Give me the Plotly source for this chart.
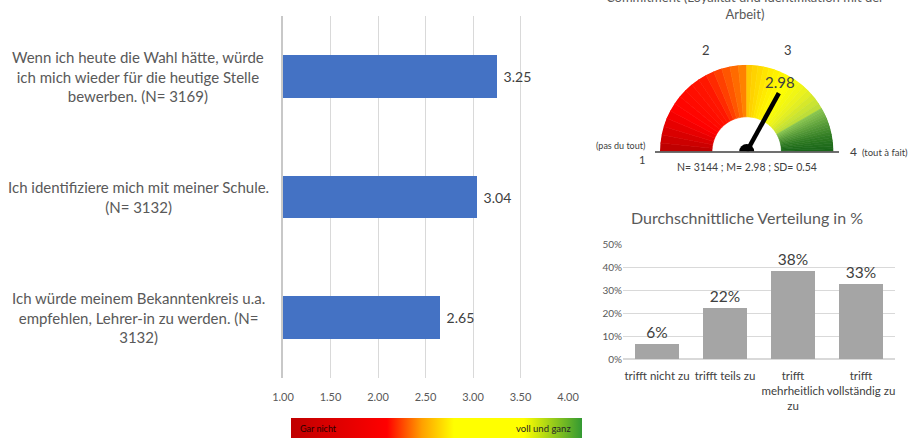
import plotly.graph_objects as go

# ---------------- data ----------------
left_categories = [
    "Wenn ich heute die Wahl hätte, würde<br>ich mich wieder für die heutige Stelle<br>bewerben. (N= 3169)",
    "Ich identifiziere mich mit meiner Schule.<br>(N= 3132)",
    "Ich würde meinem Bekanntenkreis u.a.<br>empfehlen, Lehrer-in zu werden. (N=<br>3132)",
]
left_values = [3.25, 3.04, 2.65]
left_ticks = [1.0, 1.5, 2.0, 2.5, 3.0, 3.5, 4.0]

dist_categories = ["trifft nicht zu", "trifft teils zu", "trifft<br>mehrheitlich<br>zu", "trifft<br>vollständig zu"]
dist_values = [6.4, 22.3, 38.4, 32.6]
dist_ticks = [0, 10, 20, 30, 40, 50]

gauge_mean = 2.98
gauge_min, gauge_max = 1.0, 4.0
gauge_edges = [1.0, 2.5, 3.5, 4.0]
gauge_stats = "N= 3144 ; M= 2.98 ; SD= 0.54"
gauge_title = "Commitment (Loyalität und Identifikation mit der<br>Arbeit)"
dist_title = "Durchschnittliche Verteilung in %"

# ---------------- helpers ----------------
W, H = 908, 438
FONT = "Lato"
GREY = "#595959"
DARK = "#404040"


def px(x):
    return x / W


def py(y):
    return 1 - y / H


def hex2rgb(h):
    h = h.lstrip("#")
    return [int(h[i:i + 2], 16) for i in (0, 2, 4)]


def mix(c0, c1, t):
    a, b = hex2rgb(c0), hex2rgb(c1)
    return "rgb({},{},{})".format(*[round(a[i] + (b[i] - a[i]) * t) for i in range(3)])


fig = go.Figure()

# ---------------- left bar chart ----------------
fig.add_trace(go.Bar(
    x=left_values, y=left_categories, orientation="h",
    marker=dict(color="#4472C4", line=dict(width=0)),
    width=0.355,
    text=[f" {v:.2f}" for v in left_values], textposition="outside",
    textfont=dict(size=14, color=DARK, family=FONT),
    cliponaxis=False, showlegend=False, hoverinfo="skip",
    xaxis="x", yaxis="y",
))

# hidden trace carrying the colour legend bar
fig.add_trace(go.Scatter(
    x=[gauge_min, gauge_min], y=[left_categories[0], left_categories[0]],
    mode="markers",
    marker=dict(size=1, opacity=0, color=[0, 1], cmin=0, cmax=1,
                colorscale=[[0, "#C00000"], [0.33, "#FF0000"], [0.45, "#FFA000"],
                            [0.56, "#FFFF00"], [0.8, "#FFFF00"], [1, "#339933"]],
                showscale=True,
                colorbar=dict(orientation="h", thickness=20, thicknessmode="pixels",
                              len=291, lenmode="pixels", x=px(436.5), xanchor="center",
                              y=0, yanchor="bottom", showticklabels=False, ticks="",
                              outlinewidth=0, xpad=0, ypad=0)),
    hoverinfo="skip", showlegend=False, xaxis="x", yaxis="y",
))

for cat in left_categories:
    fig.add_annotation(x=px(138), y=cat, xref="paper", yref="y", text=cat,
                       showarrow=False, align="center", xanchor="center", yanchor="middle",
                       font=dict(size=15, color=GREY, family=FONT))

# ---------------- distribution bar chart ----------------
fig.add_trace(go.Bar(
    x=dist_categories, y=dist_values,
    marker=dict(color="#A5A5A5", line=dict(width=0)),
    width=0.66,
    text=[f"{round(v)}%" for v in dist_values], textposition="outside",
    textfont=dict(size=15.5, color=DARK, family=FONT),
    cliponaxis=False, showlegend=False, hoverinfo="skip",
    xaxis="x2", yaxis="y2",
))

# ---------------- gauge ----------------
stops = {
    0: ["#B80000", "#FF0000", "#FF1800", "#FF8C00"],
    1: ["#FFC400", "#FFE800", "#FFFF00", "#E8F020", "#B8DC3C"],
    2: ["#8CC850", "#5A9E3A", "#2E7A22", "#186418"],
}
n_sub = 16


def to_theta(v):
    return (v - gauge_min) * 180.0 / (gauge_max - gauge_min)


thetas, widths, colors = [], [], []
for i in range(len(gauge_edges) - 1):
    a, b = gauge_edges[i], gauge_edges[i + 1]
    st = stops[i]
    for k in range(n_sub):
        t = (k + 0.5) / n_sub
        seg = t * (len(st) - 1)
        j = min(int(seg), len(st) - 2)
        col = mix(st[j], st[j + 1], seg - j)
        thetas.append(to_theta(a + (b - a) * t))
        widths.append((b - a) / n_sub * 180.0 / (gauge_max - gauge_min))
        colors.append(col)

fig.add_trace(go.Barpolar(
    r=[0.6] * len(thetas), base=[0.4] * len(thetas), theta=thetas, width=widths,
    marker=dict(color=colors, line=dict(color=colors, width=0.6)),
    showlegend=False, hoverinfo="skip", subplot="polar",
))
fig.add_trace(go.Scatterpolar(
    r=[0, 0.77], theta=[to_theta(gauge_mean)] * 2, mode="lines",
    line=dict(color="black", width=4.5), showlegend=False, hoverinfo="skip",
    subplot="polar",
))
fig.add_trace(go.Scatterpolar(
    r=[0], theta=[0], mode="markers",
    marker=dict(color="black", size=15), showlegend=False, hoverinfo="skip",
    subplot="polar", cliponaxis=True,
))

# ---------------- layout ----------------
fig.update_layout(
    width=W, height=H,
    margin=dict(l=0, r=0, t=0, b=0, autoexpand=False),
    paper_bgcolor="white", plot_bgcolor="white",
    font=dict(family=FONT, color=GREY),
    bargap=0,
    xaxis=dict(domain=[px(283), px(568)], range=[1, 4], tickvals=left_ticks,
               tickformat=".2f", showgrid=True, gridcolor="#D9D9D9", gridwidth=1,
               zeroline=False, showline=False, ticks="outside", ticklen=9,
               tickcolor="rgba(0,0,0,0)", tickfont=dict(size=11, color=GREY, family=FONT),
               fixedrange=True),
    yaxis=dict(domain=[py(378), py(16)], autorange="reversed", showticklabels=False,
               showgrid=False, showline=True, linecolor="#C8C8C8", linewidth=2,
               ticks="", zeroline=False, fixedrange=True),
    xaxis2=dict(domain=[px(623), px(895)], showgrid=False, showline=False,
                ticks="outside", ticklen=6, tickcolor="rgba(0,0,0,0)",
                tickfont=dict(size=11.5, color=DARK, family=FONT), anchor="y2",
                fixedrange=True),
    yaxis2=dict(domain=[py(359), py(244)], range=[0, 50], tickvals=dist_ticks,
                ticktext=[f"{v}%" for v in dist_ticks],
                showgrid=True, gridcolor="#D9D9D9", zeroline=True,
                zerolinecolor="#D9D9D9", tickfont=dict(size=10, color=GREY, family=FONT),
                anchor="x2", fixedrange=True),
    polar=dict(domain=dict(x=[px(660), px(833.4)], y=[py(151.7), py(64.7)]),
               sector=[0, 180], hole=0, bgcolor="rgba(0,0,0,0)",
               radialaxis=dict(range=[0, 1], visible=False),
               angularaxis=dict(visible=False, direction="clockwise", rotation=180)),
)

# gauge baseline
fig.add_shape(type="line", xref="paper", yref="paper", x0=px(655), x1=px(839),
              y0=py(152), y1=py(152), line=dict(color=DARK, width=1.5))

ann = [
    (gauge_title, 745, 5.5, 13, GREY),
    ("2", 706, 50, 13, DARK),
    ("3", 788, 50, 13, DARK),
    (f"{gauge_mean:.2f}", 780, 82, 15, DARK),
    ("(pas du tout)", 620, 146, 9, DARK),
    ("1", 642, 159, 11, DARK),
    ("4", 853, 151, 12, DARK),
    ("(tout à fait)", 885, 152, 9.5, DARK),
    (gauge_stats, 747, 167, 10.5, DARK),
    (dist_title, 747, 218, 16, GREY),
]
for text, x, y, size, color in ann:
    fig.add_annotation(x=px(x), y=py(y), xref="paper", yref="paper", text=text,
                       showarrow=False, xanchor="center", yanchor="middle", align="center",
                       font=dict(size=size, color=color, family=FONT))

fig.add_annotation(x=px(298), y=py(428), xref="paper", yref="paper", text="Gar nicht",
                   showarrow=False, xanchor="left", yanchor="middle",
                   font=dict(size=9, color="#2A0000", family=FONT))
fig.add_annotation(x=px(573), y=py(428), xref="paper", yref="paper", text="voll und ganz",
                   showarrow=False, xanchor="right", yanchor="middle",
                   font=dict(size=9.5, color="#262626", family=FONT))

fig.write_html("out.html", config={"displayModeBar": False},
               post_script="document.body.style.margin='0';")
